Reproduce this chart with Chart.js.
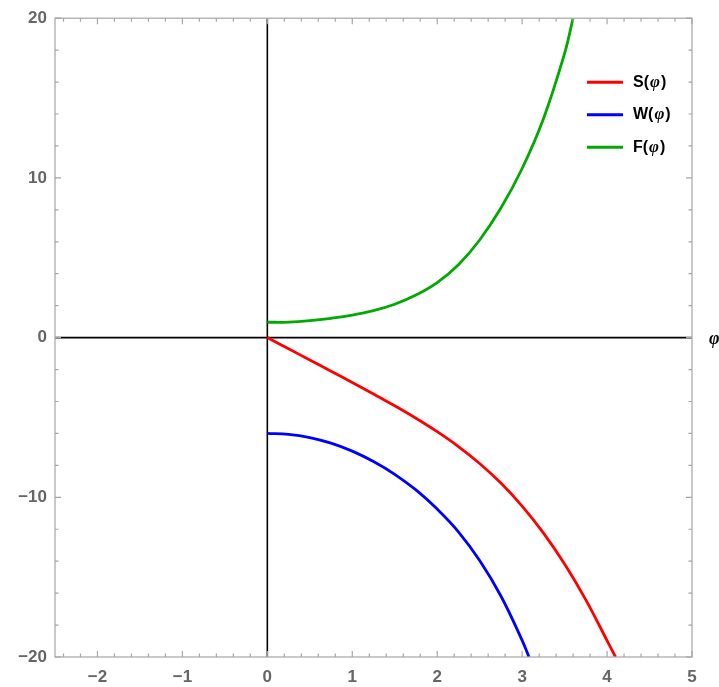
<!DOCTYPE html>
<html>
<head>
<meta charset="utf-8">
<script src="https://cdn.jsdelivr.net/npm/chart.js@4.4.1/dist/chart.umd.min.js"></script>
<style>
    html, body { margin: 0; padding: 0; background: #fff; }
    #wrap { width: 719px; height: 687px; position: relative; }
</style>
</head>
<body>
<div id="wrap"><canvas id="chart"></canvas></div>
<script>
// ============================================
// DATA
// ============================================
const phiS = [0, 0.25, 0.5, 0.75, 1.0, 1.25, 1.5, 1.75, 2.0, 2.25, 2.5, 2.75, 3.0, 3.25, 3.5, 3.75, 4.0, 4.1]
const sVals = [0, -0.7, -1.4, -2.1, -2.81, -3.53, -4.27, -5.05, -5.89, -6.82, -7.88, -9.11, -10.55, -12.23, -14.18, -16.42, -18.97, -20]

const phiW = [0, 0.25, 0.5, 0.75, 1.0, 1.25, 1.5, 1.75, 2.0, 2.25, 2.5, 2.75, 3.0, 3.08]
const wVals = [-6, -6.06, -6.26, -6.61, -7.11, -7.76, -8.56, -9.54, -10.74, -12.16, -13.96, -16.18, -18.96, -20]

const phiF = [0, 0.25, 0.5, 0.75, 1.0, 1.25, 1.5, 1.75, 2.0, 2.25, 2.5, 2.75, 3.0, 3.25, 3.5, 3.6]
const fVals = [0.96, 0.97, 1.06, 1.21, 1.41, 1.69, 2.09, 2.66, 3.44, 4.56, 6.11, 8.11, 10.59, 13.69, 17.8, 20]

const seriesNames = ['S', 'W', 'F']
const seriesColors = ['#ff0000', '#0000ff', '#00aa00']

const xTicks = [-2, -1, 0, 1, 2, 3, 4, 5]
const yTicks = [-20, -10, 0, 10, 20]
const xMinorStep = 0.2
const yMinorStep = 2

const toPoints = (xs, ys) => xs.map((x, i) => ({ x, y: ys[i] }))
const fmt = v => v < 0 ? '\u2212' + Math.abs(v) : String(v)

// ============================================
// FRAME + AXES (Mathematica style, ticks inward)
// ============================================
const framePlugin = {
    id: 'frame',
    beforeDatasetsDraw(chart) {
        const { ctx, chartArea: a, scales: { x, y } } = chart
        ctx.save()
        ctx.strokeStyle = '#000'
        ctx.lineWidth = 1.6
        ctx.beginPath()
        ctx.moveTo(a.left, y.getPixelForValue(0))
        ctx.lineTo(a.right, y.getPixelForValue(0))
        ctx.moveTo(x.getPixelForValue(0), a.top)
        ctx.lineTo(x.getPixelForValue(0), a.bottom)
        ctx.stroke()
        ctx.restore()
    },
    afterDatasetsDraw(chart) {
        const { ctx, chartArea: a, scales: { x, y } } = chart
        ctx.save()
        ctx.strokeStyle = '#a6a6a6'
        ctx.lineWidth = 1.2
        ctx.strokeRect(a.left, a.top, a.right - a.left, a.bottom - a.top)

        ctx.beginPath()
        // x ticks, bottom + top
        for (let v = Math.ceil(x.min / xMinorStep) * xMinorStep; v <= x.max + 1e-9; v += xMinorStep) {
            const r = Math.round(v * 10) / 10
            const len = Number.isInteger(r) ? 6 : 3.5
            const px = x.getPixelForValue(r)
            ctx.moveTo(px, a.bottom); ctx.lineTo(px, a.bottom - len)
            ctx.moveTo(px, a.top); ctx.lineTo(px, a.top + len)
        }
        // y ticks, left + right
        for (let v = y.min; v <= y.max; v += yMinorStep) {
            const len = v % 10 === 0 ? 6 : 3.5
            const py = y.getPixelForValue(v)
            ctx.moveTo(a.left, py); ctx.lineTo(a.left + len, py)
            ctx.moveTo(a.right, py); ctx.lineTo(a.right - len, py)
        }
        ctx.stroke()

        // axis label
        ctx.fillStyle = '#000'
        ctx.font = 'italic bold 18px "Liberation Serif"'
        ctx.textBaseline = 'middle'
        ctx.textAlign = 'left'
        ctx.fillText('\u03C6', a.right + 17, y.getPixelForValue(0) + 2)
        ctx.restore()
    }
}

// ============================================
// LEGEND (inside, top right)
// ============================================
const legendPlugin = {
    id: 'insideLegend',
    afterDraw(chart) {
        const { ctx, chartArea: a } = chart
        ctx.save()
        chart.data.datasets.forEach((ds, i) => {
            const yy = a.top + 64 + i * 32.5
            const x0 = a.right - 105
            ctx.strokeStyle = ds.borderColor
            ctx.lineWidth = 3
            ctx.beginPath()
            ctx.moveTo(x0, yy)
            ctx.lineTo(x0 + 36, yy)
            ctx.stroke()

            let tx = x0 + 46
            ctx.fillStyle = '#000'
            ctx.textBaseline = 'middle'
            ctx.textAlign = 'left'
            const parts = [
                [seriesNames[i] + '(', 'bold 16px "Liberation Sans"'],
                ['\u03C6', 'italic bold 17px "Liberation Serif"'],
                [')', 'bold 16px "Liberation Sans"']
            ]
            parts.forEach(([t, f]) => {
                ctx.font = f
                ctx.fillText(t, tx, yy)
                tx += ctx.measureText(t).width + 1
            })
        })
        ctx.restore()
    }
}

// ============================================
// CHART
// ============================================
function init() {
    const ctx = document.getElementById('chart').getContext('2d')
    const tickFont = { family: 'Liberation Sans', size: 17, weight: 'bold' }

    new Chart(ctx, {
        type: 'scatter',
        data: {
            datasets: [
                { label: 'S(\u03C6)', data: toPoints(phiS, sVals) },
                { label: 'W(\u03C6)', data: toPoints(phiW, wVals) },
                { label: 'F(\u03C6)', data: toPoints(phiF, fVals) }
            ].map((d, i) => ({
                ...d,
                showLine: true,
                borderColor: seriesColors[i],
                backgroundColor: seriesColors[i],
                borderWidth: 2.8,
                pointRadius: 0,
                tension: 0.4
            }))
        },
        options: {
            responsive: true,
            maintainAspectRatio: false,
            animation: false,
            layout: { padding: { top: 17, right: 27, left: 0, bottom: 0 } },
            plugins: {
                legend: { display: false },
                tooltip: { enabled: false }
            },
            scales: {
                x: {
                    type: 'linear',
                    min: -2.5,
                    max: 5,
                    grid: { display: false, drawTicks: false },
                    border: { display: false },
                    afterBuildTicks: s => { s.ticks = xTicks.map(value => ({ value })) },
                    afterFit: s => { s.height = 30 },
                    ticks: { font: tickFont, color: '#666', padding: 10, maxRotation: 0, autoSkip: false, callback: fmt }
                },
                y: {
                    type: 'linear',
                    min: -20,
                    max: 20,
                    grid: { display: false, drawTicks: false },
                    border: { display: false },
                    afterBuildTicks: s => { s.ticks = yTicks.map(value => ({ value })) },
                    afterFit: s => { s.width = 55 },
                    ticks: { font: tickFont, color: '#666', padding: 8, autoSkip: false, callback: fmt }
                }
            }
        },
        plugins: [framePlugin, legendPlugin]
    })
}

document.addEventListener('DOMContentLoaded', init)
</script>
</body>
</html>
